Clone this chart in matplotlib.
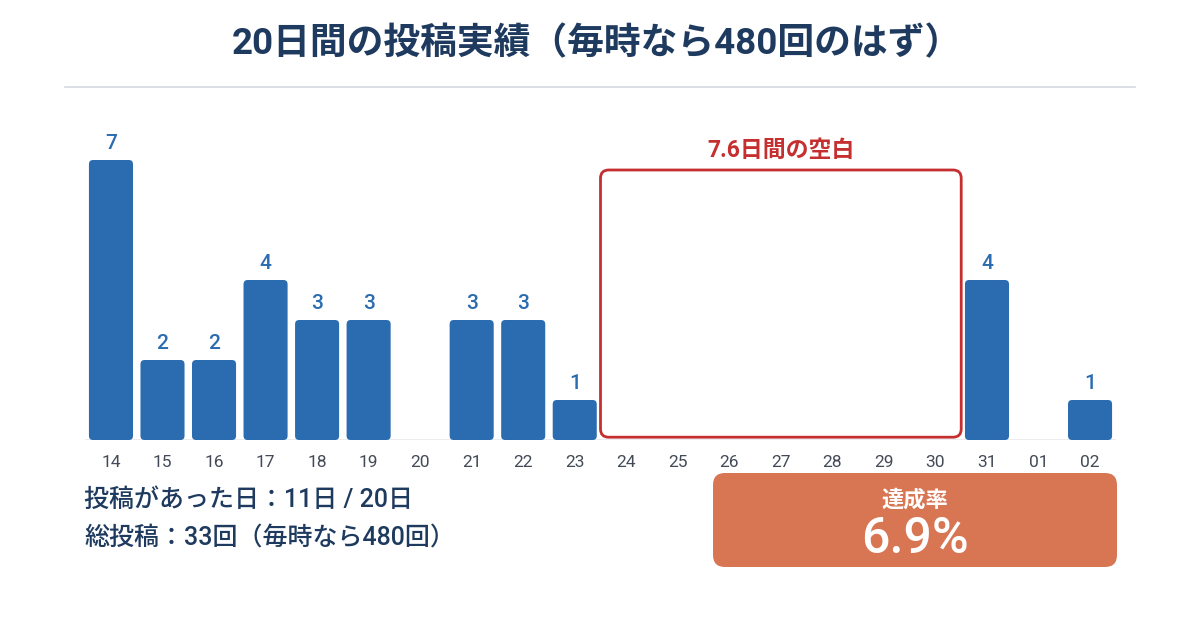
import matplotlib
matplotlib.use("Agg")
import matplotlib.pyplot as plt
from matplotlib.patches import FancyBboxPatch
import numpy as np

# 数字は欧文フォント、和文は Noto Sans CJK JP にフォールバック
plt.rcParams['font.family'] = ['Roboto', 'Noto Sans CJK JP', 'DejaVu Sans']

# データ
days = ["14", "15", "16", "17", "18", "19", "20", "21", "22", "23",
        "24", "25", "26", "27", "28", "29", "30", "31", "01", "02"]
posts = [7, 2, 2, 4, 3, 3, 0, 3, 3, 1, 0, 0, 0, 0, 0, 0, 0, 4, 0, 1]
gap_days = ["24", "30"]          # 空白の最初と最後
gap_label = "7.6日間の空白"
title = "20日間の投稿実績（毎時なら480回のはず）"
summary_lines = ["投稿があった日：11日 / 20日", "総投稿：33回（毎時なら480回）"]
rate_label = "達成率"
rate_value = "6.9%"

BLUE = "#2b6cb0"
NAVY = "#1e3a5f"
RED = "#c62f2f"
ORANGE = "#d87654"

W, H = 1200, 628
fig = plt.figure(figsize=(W / 100, H / 100), dpi=100)
fig.patch.set_facecolor("white")

# タイトルと区切り線
fig.text(597 / W, 1 - 44 / H, title, ha="center", va="center",
         fontsize=26.5, fontweight="bold", color=NAVY)
fig.add_artist(plt.Line2D([65 / W, 1135 / W], [1 - 87 / H] * 2,
                          color="#d5dae1", lw=1.2))

# 棒グラフ
ax_w, ax_h = 1030.6, 320
ax = fig.add_axes([85.2 / W, (H - 440) / H, ax_w / W, ax_h / H])
ax.set_xlim(-0.5, len(days) - 0.5)
ax.set_ylim(0, 8)
# 角丸用: x 単位あたりと y 単位あたりのピクセル比
aspect = (8 / ax_h) / (len(days) / ax_w)

x = np.arange(len(days))
vals = np.array(posts)
ax.axhline(0, color="#e6e9ee", lw=1.2, zorder=1)
bars = ax.bar(x, vals, width=0.855, color=BLUE)
for rect, v in zip(bars, vals):
    rect.set_visible(False)
    if v <= 0:
        continue
    ax.add_patch(FancyBboxPatch((rect.get_x(), rect.get_y()),
                                rect.get_width(), rect.get_height(),
                                boxstyle="round,pad=0,rounding_size=0.08",
                                mutation_aspect=aspect,
                                facecolor=BLUE, edgecolor="none", zorder=3))
    ax.text(rect.get_x() + rect.get_width() / 2, v + 0.17, str(v),
            ha="center", va="bottom", fontsize=15, fontweight="medium",
            color=BLUE)

ax.set_xticks(x)
ax.set_xticklabels(days, fontsize=12.5, color="#434a57")
ax.tick_params(axis="x", length=0, pad=11)
ax.set_yticks([])
for s in ax.spines.values():
    s.set_visible(False)

# 空白の枠
i0, i1 = days.index(gap_days[0]), days.index(gap_days[1])
left, right = i0 - 0.5, i1 + 0.5
top = 6.75
box = FancyBboxPatch((left, 0.07), right - left, top - 0.07,
                     boxstyle="round,pad=0,rounding_size=0.16",
                     mutation_aspect=aspect,
                     fill=False, edgecolor=RED, lw=2, zorder=4, clip_on=False)
ax.add_patch(box)
ax.text((left + right) / 2, top + 0.2, gap_label, ha="center", va="bottom",
        fontsize=16.5, fontweight="bold", color=RED)

# 左下のまとめ
for i, line in enumerate(summary_lines):
    fig.text(84 / W, 1 - (500 + 38 * i) / H, line, ha="left", va="center",
             fontsize=18, fontweight="medium", color=NAVY)

# 達成率ボックス
bx0, by0, bx1, by1 = 713, 473, 1117, 567
ax_box = fig.add_axes([bx0 / W, 1 - by1 / H, (bx1 - bx0) / W, (by1 - by0) / H])
ax_box.set_xlim(0, bx1 - bx0)
ax_box.set_ylim(0, by1 - by0)
ax_box.axis("off")
ax_box.add_patch(FancyBboxPatch((0, 0), bx1 - bx0, by1 - by0,
                                boxstyle="round,pad=0,rounding_size=12",
                                facecolor=ORANGE, edgecolor="none"))
ax_box.text((bx1 - bx0) / 2, by1 - 501, rate_label, ha="center", va="center",
            fontsize=16, fontweight="bold", color="white")
ax_box.text((bx1 - bx0) / 2, by1 - 539, rate_value, ha="center", va="center",
            fontsize=36, fontweight="medium", color="white")

fig.savefig("out.png", dpi=100, facecolor="white")
